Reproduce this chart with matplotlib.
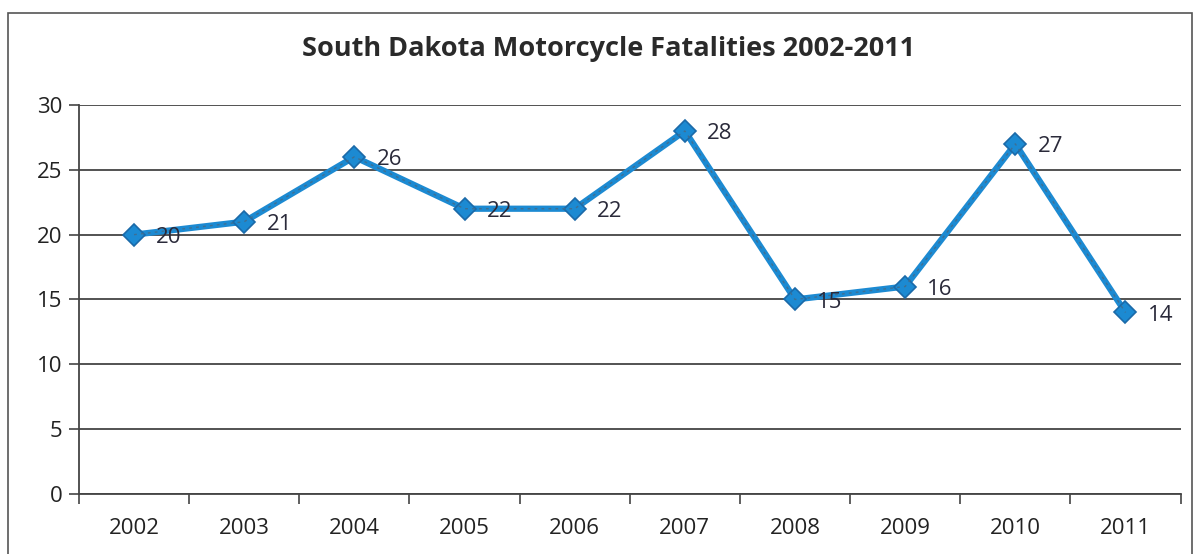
import matplotlib.pyplot as plt
import numpy as np
from matplotlib.patches import Rectangle

years = ['2002', '2003', '2004', '2005', '2006', '2007', '2008', '2009', '2010', '2011']
fatalities = [20, 21, 26, 22, 22, 28, 15, 16, 27, 14]
y_ticks = [0, 5, 10, 15, 20, 25, 30]

plt.rcParams['font.family'] = ['Open Sans', 'DejaVu Sans']

fig = plt.figure(figsize=(12, 5.54), dpi=100)
ax = fig.add_axes([0.0658, 0.1083, 0.918, 0.7022])

# outer chart frame (scanned border)
fig.patches.append(Rectangle((0.007, -0.02), 0.986, 0.997, transform=fig.transFigure,
                             fill=False, edgecolor='#555555', linewidth=1.2))

x = np.arange(len(years))
ax.plot(x, fatalities, color='#1c8ad2', linewidth=4.5, marker='D', markersize=11,
        markerfacecolor='#1c8ad2', markeredgecolor='#1b6aa8', markeredgewidth=1.2, zorder=3)
ax.plot(x, fatalities, color='#3f6f92', linewidth=1, linestyle=(0, (2, 3)), zorder=4)

for xi, v in zip(x, fatalities):
    ax.annotate(str(v), (xi, v), xytext=(16, -2), textcoords='offset points',
                fontsize=16, color='#2a2a3a', va='center', ha='left', zorder=5)

ax.set_xlim(-0.5, len(years) - 0.5)
ax.set_ylim(0, 30)
ax.set_yticks(y_ticks)
ax.set_yticklabels([str(t) for t in y_ticks], fontsize=16, color='#222222')
ax.yaxis.grid(True, color='#444444', linewidth=1.3)
ax.set_axisbelow(True)

ax.set_xticks(x)
ax.set_xticklabels(years, fontsize=16, color='#222222')
ax.tick_params(axis='x', which='major', length=0, pad=17)
ax.set_xticks(np.arange(-0.5, len(years)), minor=True)
ax.tick_params(axis='x', which='minor', length=7, width=1.2, color='#444444', direction='out')
ax.tick_params(axis='y', length=7, width=1.2, color='#444444', pad=5)

for side in ['top', 'right']:
    ax.spines[side].set_visible(False)
for side in ['left', 'bottom']:
    ax.spines[side].set_color('#444444')
    ax.spines[side].set_linewidth(1.3)

fig.text(0.507, 0.912, 'South Dakota Motorcycle Fatalities 2002-2011', ha='center', va='center',
         fontsize=19.5, fontweight='bold', color='#2a2a2a')

fig.savefig('out.png', dpi=100)
